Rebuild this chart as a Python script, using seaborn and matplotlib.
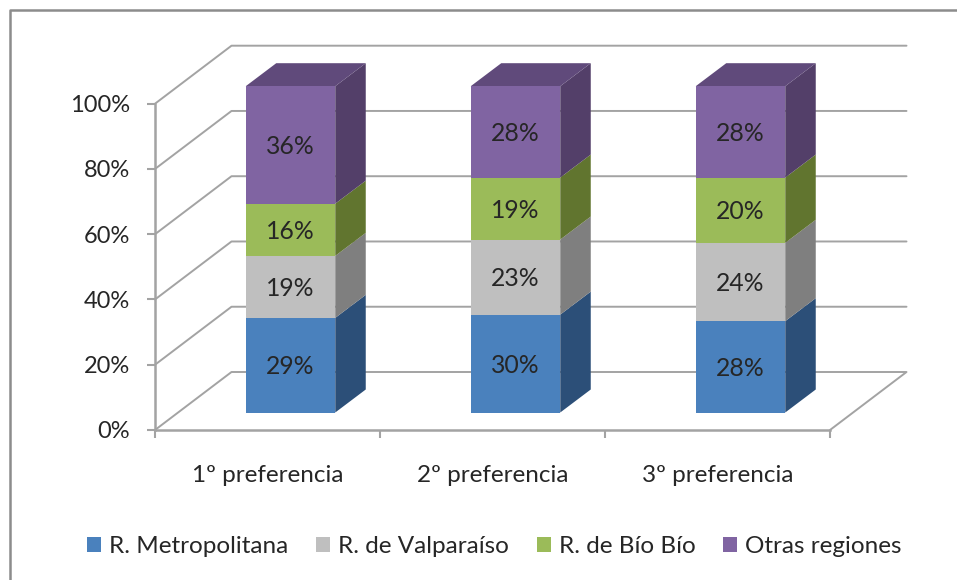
import matplotlib
matplotlib.use("Agg")
import matplotlib.pyplot as plt
import matplotlib.transforms as mtransforms
from matplotlib.lines import Line2D
from matplotlib.patches import Patch, Polygon
import seaborn as sns

categories = ["1º preferencia", "2º preferencia", "3º preferencia"]
series_names = ["R. Metropolitana", "R. de Valparaíso", "R. de Bío Bío", "Otras regiones"]
metropolitana = [29, 30, 28]
valparaiso = [19, 23, 24]
biobio = [16, 19, 20]
otras = [36, 28, 28]
y_ticks = [0, 20, 40, 60, 80, 100]

front_colors = ["#4a81bd", "#bfbfbf", "#9bbb59", "#8064a2"]
side_colors = ["#2c4f78", "#7f7f7f", "#61752f", "#533f69"]
top_purple = "#604a7b"
grid_color = "#a3a3a3"
text_color = "#262626"

sns.set_theme(style="white")
plt.rcParams["font.family"] = ["Lato", "DejaVu Sans"]

W, H = 957, 580
fig = plt.figure(figsize=(W / 100, H / 100), dpi=100, facecolor="white")
L, R, T, B = 155, 830, 103.7, 430
ax = fig.add_axes([L / W, 1 - B / H, (R - L) / W, (B - T) / H])
ax.set_facecolor("none")

all_series = [metropolitana, valparaiso, biobio, otras]
bottom = [0, 0, 0]
bar_width = 89.5 / 225

# seaborn front faces
stack_bottoms = []
for vals, col in zip(all_series, front_colors):
    sns.barplot(x=categories, y=vals, bottom=bottom, color=col, width=bar_width,
                saturation=1, ax=ax, linewidth=0, zorder=5)
    stack_bottoms.append(list(bottom))
    bottom = [b + v for b, v in zip(bottom, vals)]

ax.set_xlim(-0.5, 2.5)
ax.set_ylim(0, 100)

px_x = 1 / 225             # data x per pixel
px_y = 100 / (B - T)       # data y per pixel
wall_dx, wall_dy = 76.5 * px_x, 58 * px_y
bar_dx, bar_dy = 30.5 * px_x, 23 * px_y

shift = mtransforms.ScaledTranslation(23 / 100, 17.5 / 100, fig.dpi_scale_trans)
bar_tr = ax.transData + shift
label_tr = ax.transData + mtransforms.ScaledTranslation(23 / 100, 16 / 100, fig.dpi_scale_trans)

for p in ax.patches:
    p.set_transform(bar_tr)
    p.set_clip_on(False)
    p.set_edgecolor("none")

# walls
for t in y_ticks:
    if t == 0:
        ax.plot([-0.5, -0.5 + wall_dx, 2.5 + wall_dx, 2.5], [0, wall_dy, wall_dy, 0],
                color=grid_color, lw=1.4, clip_on=False, zorder=1)
    else:
        ax.plot([-0.5, -0.5 + wall_dx, 2.5 + wall_dx], [t, t + wall_dy, t + wall_dy],
                color=grid_color, lw=1.4, clip_on=False, zorder=1)

# side and top faces of the bars
half = bar_width / 2
for i in range(len(categories)):
    x1 = i + half
    x0 = i - half
    for k, vals in enumerate(all_series):
        y0 = stack_bottoms[k][i]
        y1 = y0 + vals[i]
        ax.add_patch(Polygon([(x1, y0), (x1 + bar_dx, y0 + bar_dy), (x1 + bar_dx, y1 + bar_dy), (x1, y1)],
                             closed=True, facecolor=side_colors[k], edgecolor="none",
                             transform=bar_tr, clip_on=False, zorder=4))
        ax.text(i, y0 + vals[i] / 2, f"{vals[i]}%", ha="center", va="center",
                fontsize=17.8, color=text_color, transform=label_tr, zorder=7)
    ytop = stack_bottoms[-1][i] + all_series[-1][i]
    ax.add_patch(Polygon([(x0, ytop), (x0 + bar_dx, ytop + bar_dy), (x1 + bar_dx, ytop + bar_dy), (x1, ytop)],
                         closed=True, facecolor=top_purple, edgecolor="none",
                         transform=bar_tr, clip_on=False, zorder=4))

# axes
for s in ["top", "right"]:
    ax.spines[s].set_visible(False)
for s in ["left", "bottom"]:
    ax.spines[s].set_color(grid_color)
    ax.spines[s].set_linewidth(1.8)
    ax.spines[s].set_zorder(3)
ax.set_yticks(y_ticks)
ax.set_yticklabels([f"{t}%" for t in y_ticks])
ax.tick_params(axis="y", length=6, width=1.5, color=grid_color, pad=12,
               labelsize=17, labelcolor=text_color, left=True)
ax.set_xticks(range(len(categories)))
ax.set_xticklabels(categories)
ax.tick_params(axis="x", which="major", length=0, pad=25, labelsize=17.5, labelcolor=text_color)
ax.set_xticks([-0.5, 0.5, 1.5, 2.5], minor=True)
ax.tick_params(axis="x", which="minor", length=6, width=1.5, color=grid_color, bottom=True)

handles = [Patch(facecolor=c, edgecolor="none", label=n) for c, n in zip(front_colors, series_names)]
fig.legend(handles=handles, loc="center", bbox_to_anchor=(494.5 / W, 1 - 546.5 / H), ncol=4,
           frameon=False, fontsize=17.5, labelcolor=text_color, handlelength=0.57, handleheight=0.57,
           handletextpad=0.33, columnspacing=1.15)

# outer chart frame (runs off the picture on the right and bottom)
fig.add_artist(Line2D([9.5 / W, 9.5 / W, 1], [0, 1 - 9.5 / H, 1 - 9.5 / H],
                      transform=fig.transFigure, color="#8c8c8c", lw=1.8))

fig.savefig("out.png", dpi=100, facecolor="white")
